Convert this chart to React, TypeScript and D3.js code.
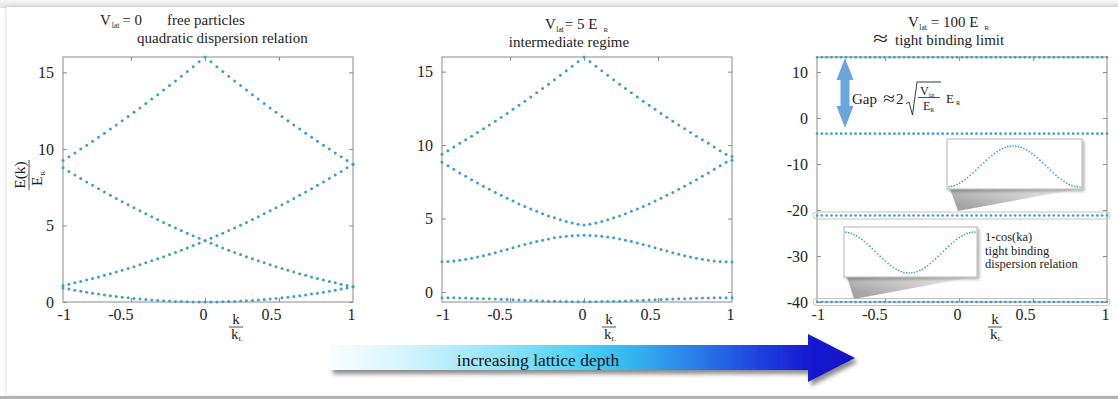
import { useEffect, useRef } from 'react';
import * as d3 from 'd3';

// k / k_L sample points (the plotted zone runs from -0.96 to 1)
const kGrid = [
  -0.96, -0.92, -0.88, -0.84, -0.8, -0.76, -0.72, -0.68, -0.64, -0.6, -0.56, -0.52, -0.48, -0.44, -0.4, -0.36,
  -0.32, -0.28, -0.24, -0.2, -0.16, -0.12, -0.08, -0.04, 0, 0.04, 0.08, 0.12, 0.16, 0.2, 0.24, 0.28, 0.32, 0.36,
  0.4, 0.44, 0.48, 0.52, 0.56, 0.6, 0.64, 0.68, 0.72, 0.76, 0.8, 0.84, 0.88, 0.92, 0.96, 1,
];

// V_lat = 0 (free particles)
const freeBand1 = [
  0.922, 0.846, 0.774, 0.706, 0.64, 0.578, 0.518, 0.462, 0.41, 0.36, 0.314, 0.27, 0.23, 0.194, 0.16, 0.13, 0.102,
  0.078, 0.058, 0.04, 0.026, 0.014, 0.006, 0.002, 0, 0.002, 0.006, 0.014, 0.026, 0.04, 0.058, 0.078, 0.102, 0.13,
  0.16, 0.194, 0.23, 0.27, 0.314, 0.36, 0.41, 0.462, 0.518, 0.578, 0.64, 0.706, 0.774, 0.846, 0.922, 1,
];
const freeBand2 = [
  1.082, 1.166, 1.254, 1.346, 1.44, 1.538, 1.638, 1.742, 1.85, 1.96, 2.074, 2.19, 2.31, 2.434, 2.56, 2.69, 2.822,
  2.958, 3.098, 3.24, 3.386, 3.534, 3.686, 3.842, 4, 3.842, 3.686, 3.534, 3.386, 3.24, 3.098, 2.958, 2.822, 2.69,
  2.56, 2.434, 2.31, 2.19, 2.074, 1.96, 1.85, 1.742, 1.638, 1.538, 1.44, 1.346, 1.254, 1.166, 1.082, 1,
];
const freeBand3 = [
  8.762, 8.526, 8.294, 8.066, 7.84, 7.618, 7.398, 7.182, 6.97, 6.76, 6.554, 6.35, 6.15, 5.954, 5.76, 5.57, 5.382,
  5.198, 5.018, 4.84, 4.666, 4.494, 4.326, 4.162, 4, 4.162, 4.326, 4.494, 4.666, 4.84, 5.018, 5.198, 5.382, 5.57,
  5.76, 5.954, 6.15, 6.35, 6.554, 6.76, 6.97, 7.182, 7.398, 7.618, 7.84, 8.066, 8.294, 8.526, 8.762, 9,
];
const freeBand4 = [
  9.242, 9.486, 9.734, 9.986, 10.24, 10.498, 10.758, 11.022, 11.29, 11.56, 11.834, 12.11, 12.39, 12.674, 12.96,
  13.25, 13.542, 13.838, 14.138, 14.44, 14.746, 15.054, 15.366, 15.682, 16, 15.682, 15.366, 15.054, 14.746, 14.44,
  14.138, 13.838, 13.542, 13.25, 12.96, 12.674, 12.39, 12.11, 11.834, 11.56, 11.29, 11.022, 10.758, 10.498, 10.24,
  9.986, 9.734, 9.486, 9.242, 9,
];

// V_lat = 5 E_R (intermediate regime)
const latticeBand1 = [
  -0.391, -0.394, -0.399, -0.407, -0.416, -0.427, -0.439, -0.453, -0.467, -0.483, -0.5, -0.517, -0.533, -0.55,
  -0.567, -0.583, -0.597, -0.611, -0.623, -0.634, -0.643, -0.651, -0.656, -0.659, -0.66, -0.659, -0.656, -0.651,
  -0.643, -0.634, -0.623, -0.611, -0.597, -0.583, -0.567, -0.55, -0.533, -0.517, -0.5, -0.483, -0.467, -0.453,
  -0.439, -0.427, -0.416, -0.407, -0.399, -0.394, -0.391, -0.39,
];
const latticeBand2 = [
  2.057, 2.079, 2.113, 2.162, 2.222, 2.296, 2.378, 2.47, 2.569, 2.674, 2.785, 2.899, 3.011, 3.125, 3.236, 3.341,
  3.44, 3.532, 3.614, 3.688, 3.748, 3.797, 3.831, 3.853, 3.86, 3.853, 3.831, 3.797, 3.748, 3.688, 3.614, 3.532,
  3.44, 3.341, 3.236, 3.125, 3.011, 2.899, 2.785, 2.674, 2.569, 2.47, 2.378, 2.296, 2.222, 2.162, 2.113, 2.079,
  2.057, 2.05,
];
const latticeBand3 = [
  8.84, 8.59, 8.35, 8.11, 7.88, 7.65, 7.42, 7.2, 6.99, 6.78, 6.58, 6.38, 6.19, 6, 5.82, 5.65, 5.49, 5.33, 5.18,
  5.05, 4.92, 4.8, 4.7, 4.62, 4.57, 4.62, 4.7, 4.8, 4.92, 5.05, 5.18, 5.33, 5.49, 5.65, 5.82, 6, 6.19, 6.38, 6.58,
  6.78, 6.99, 7.2, 7.42, 7.65, 7.88, 8.11, 8.35, 8.59, 8.84, 8.97,
];
const latticeBand4 = [
  9.38, 9.62, 9.88, 10.13, 10.37, 10.61, 10.86, 11.11, 11.37, 11.63, 11.9, 12.16, 12.44, 12.71, 12.99, 13.28,
  13.56, 13.85, 14.15, 14.45, 14.75, 15.06, 15.37, 15.68, 16, 15.68, 15.37, 15.06, 14.75, 14.45, 14.15, 13.85,
  13.56, 13.28, 12.99, 12.71, 12.44, 12.16, 11.9, 11.63, 11.37, 11.11, 10.86, 10.61, 10.37, 10.13, 9.88, 9.62,
  9.38, 9.22,
];

// V_lat = 100 E_R (tight binding): denser sampling, flat bands
const tightK = [
  -0.96, -0.927, -0.895, -0.862, -0.829, -0.797, -0.764, -0.731, -0.699, -0.666, -0.633, -0.601, -0.568, -0.535,
  -0.503, -0.47, -0.437, -0.405, -0.372, -0.339, -0.307, -0.274, -0.241, -0.209, -0.176, -0.143, -0.111, -0.078,
  -0.045, -0.013, 0.02, 0.053, 0.085, 0.118, 0.151, 0.183, 0.216, 0.249, 0.281, 0.314, 0.347, 0.379, 0.412, 0.445,
  0.477, 0.51, 0.543, 0.575, 0.608, 0.641, 0.673, 0.706, 0.739, 0.771, 0.804, 0.837, 0.869, 0.902, 0.935, 0.967, 1,
];
const tightBand1 = [
  -40, -40, -40, -40, -40, -40, -40, -40, -40, -40, -40, -40, -40, -40, -40, -40, -40, -40, -40, -40,
  -40, -40, -40, -40, -40, -40, -40, -40, -40, -40, -40, -40, -40, -40, -40, -40, -40, -40, -40, -40,
  -40, -40, -40, -40, -40, -40, -40, -40, -40, -40, -40, -40, -40, -40, -40, -40, -40, -40, -40, -40, -40,
];
const tightBand2 = [
  -21.2, -21.2, -21.2, -21.2, -21.2, -21.2, -21.2, -21.2, -21.2, -21.2, -21.2, -21.2, -21.2, -21.2, -21.2, -21.2,
  -21.2, -21.2, -21.2, -21.2, -21.2, -21.2, -21.2, -21.2, -21.2, -21.2, -21.2, -21.2, -21.2, -21.2, -21.2, -21.2,
  -21.2, -21.2, -21.2, -21.2, -21.2, -21.2, -21.2, -21.2, -21.2, -21.2, -21.2, -21.2, -21.2, -21.2, -21.2, -21.2,
  -21.2, -21.2, -21.2, -21.2, -21.2, -21.2, -21.2, -21.2, -21.2, -21.2, -21.2, -21.2, -21.2,
];
const tightBand3 = [
  -3.4, -3.4, -3.4, -3.4, -3.4, -3.4, -3.4, -3.4, -3.4, -3.4, -3.4, -3.4, -3.4, -3.4, -3.4, -3.4, -3.4, -3.4, -3.4,
  -3.4, -3.4, -3.4, -3.4, -3.4, -3.4, -3.4, -3.4, -3.4, -3.4, -3.4, -3.4, -3.4, -3.4, -3.4, -3.4, -3.4, -3.4, -3.4,
  -3.4, -3.4, -3.4, -3.4, -3.4, -3.4, -3.4, -3.4, -3.4, -3.4, -3.4, -3.4, -3.4, -3.4, -3.4, -3.4, -3.4, -3.4, -3.4,
  -3.4, -3.4, -3.4, -3.4,
];
const tightBand4 = [
  13.2, 13.2, 13.2, 13.2, 13.2, 13.2, 13.2, 13.2, 13.2, 13.2, 13.2, 13.2, 13.2, 13.2, 13.2, 13.2, 13.2, 13.2, 13.2,
  13.2, 13.2, 13.2, 13.2, 13.2, 13.2, 13.2, 13.2, 13.2, 13.2, 13.2, 13.2, 13.2, 13.2, 13.2, 13.2, 13.2, 13.2, 13.2,
  13.2, 13.2, 13.2, 13.2, 13.2, 13.2, 13.2, 13.2, 13.2, 13.2, 13.2, 13.2, 13.2, 13.2, 13.2, 13.2, 13.2, 13.2, 13.2,
  13.2, 13.2, 13.2, 13.2,
];

// zoomed-in band shapes for the two insets (normalised 0..1, on kGrid)
const insetUpper = [
  0.004, 0.016, 0.035, 0.062, 0.095, 0.136, 0.181, 0.232, 0.287, 0.345, 0.406, 0.469, 0.531, 0.594, 0.655, 0.713,
  0.768, 0.819, 0.864, 0.905, 0.938, 0.965, 0.984, 0.996, 1, 0.996, 0.984, 0.965, 0.938, 0.905, 0.864, 0.819, 0.768,
  0.713, 0.655, 0.594, 0.531, 0.469, 0.406, 0.345, 0.287, 0.232, 0.181, 0.136, 0.095, 0.062, 0.035, 0.016, 0.004, 0,
];
const insetLower = [
  0.996, 0.984, 0.965, 0.938, 0.905, 0.864, 0.819, 0.768, 0.713, 0.655, 0.594, 0.531, 0.469, 0.406, 0.345, 0.287,
  0.232, 0.181, 0.136, 0.095, 0.062, 0.035, 0.016, 0.004, 0, 0.004, 0.016, 0.035, 0.062, 0.095, 0.136, 0.181, 0.232,
  0.287, 0.345, 0.406, 0.469, 0.531, 0.594, 0.655, 0.713, 0.768, 0.819, 0.864, 0.905, 0.938, 0.965, 0.984, 0.996, 1,
];

const kTicks = [-1, -0.5, 0, 0.5, 1];
const freeYTicks = [0, 5, 10, 15];
const latticeYTicks = [0, 5, 10, 15];
const tightYTicks = [-40, -30, -20, -10, 0, 10];

const W = 1118;
const H = 399;
const SERIF = "'Liberation Serif', 'DejaVu Serif', 'Times New Roman', serif";
const DOT = '#3d9fd0';
const AXIS = '#8a8a8a';
const INK = '#222';

const App = () => {
  const svgRef = useRef(null);

  useEffect(() => {
    const svg = d3.select(svgRef.current);
    svg.selectAll('*').remove();

    // one css rule so every text (axes included) uses the serif face
    svg.append('style').text(`text { font-family: ${SERIF}; }`);

    const defs = svg.append('defs');

    const topShade = defs.append('linearGradient').attr('id', 'topShade').attr('x1', 0).attr('y1', 0).attr('x2', 0).attr('y2', 1);
    topShade.append('stop').attr('offset', 0).attr('stop-color', '#f7f7f7');
    topShade.append('stop').attr('offset', 1).attr('stop-color', '#e3e3e3');

    const cardShadow = defs.append('filter').attr('id', 'cardShadow').attr('x', '-2%').attr('y', '-5%').attr('width', '104%').attr('height', '110%');
    cardShadow.append('feDropShadow').attr('dx', 0).attr('dy', 0).attr('stdDeviation', 2.5).attr('flood-color', '#000').attr('flood-opacity', 0.18);

    const boxShadow = defs.append('filter').attr('id', 'boxShadow').attr('x', '-10%').attr('y', '-20%').attr('width', '125%').attr('height', '150%');
    boxShadow.append('feDropShadow').attr('dx', 2).attr('dy', 2).attr('stdDeviation', 1.5).attr('flood-color', '#000').attr('flood-opacity', 0.3);

    const arrowShadow = defs.append('filter').attr('id', 'arrowShadow').attr('x', '-5%').attr('y', '-50%').attr('width', '112%').attr('height', '220%');
    arrowShadow.append('feDropShadow').attr('dx', 3).attr('dy', 4).attr('stdDeviation', 2).attr('flood-color', '#000').attr('flood-opacity', 0.45);

    const depth = defs.append('linearGradient').attr('id', 'depthGrad').attr('gradientUnits', 'userSpaceOnUse')
      .attr('x1', 330).attr('y1', 0).attr('x2', 855).attr('y2', 0);
    [
      [0, '#f8fdff'], [0.14, '#d6f5fe'], [0.32, '#93e4fa'], [0.47, '#4fd2f7'], [0.58, '#33b4f0'],
      [0.7, '#2a7be7'], [0.82, '#1f40de'], [0.92, '#1618cf'], [1, '#1410c4'],
    ].forEach(([o, c]) => depth.append('stop').attr('offset', o).attr('stop-color', c));

    const wedge = defs.append('linearGradient').attr('id', 'wedgeGrad').attr('x1', 0).attr('y1', 0.6).attr('x2', 1).attr('y2', 0);
    wedge.append('stop').attr('offset', 0).attr('stop-color', '#a4a4a4');
    wedge.append('stop').attr('offset', 1).attr('stop-color', '#f6f6f6');

    // page card
    svg.append('rect').attr('width', W).attr('height', H).attr('fill', '#fff');
    svg.append('rect').attr('width', W).attr('height', 8).attr('fill', 'url(#topShade)');
    svg.append('rect').attr('x', 7).attr('y', 7).attr('width', W + 20).attr('height', 388).attr('fill', '#fff').attr('filter', 'url(#cardShadow)');
    svg.append('rect').attr('x', 0).attr('y', 396).attr('width', W).attr('height', 3).attr('fill', '#b3b3b3');

    const TOP = 57;
    const BOTTOM = 302;
    const PW = 290;

    const panels = [
      { left: 63, k: kGrid, bands: [freeBand1, freeBand2, freeBand3, freeBand4], yDomain: [0, 16], yTicks: freeYTicks, r: 1.5, kLabelX: 236 },
      { left: 442, k: kGrid, bands: [latticeBand1, latticeBand2, latticeBand3, latticeBand4], yDomain: [-0.68, 16], yTicks: latticeYTicks, r: 1.5, kLabelX: 609 },
      { left: 817, k: tightK, bands: [tightBand1, tightBand2, tightBand3, tightBand4], yDomain: [-40, 13.26], yTicks: tightYTicks, r: 1.35, kLabelX: 995 },
    ];

    const scales = panels.map((p) => {
      const x = d3.scaleLinear().domain([-0.96, 1]).range([p.left, p.left + PW]);
      const y = d3.scaleLinear().domain(p.yDomain).range([BOTTOM, TOP]);
      const g = svg.append('g');

      g.append('rect')
        .attr('x', p.left).attr('y', TOP).attr('width', PW).attr('height', BOTTOM - TOP)
        .attr('fill', 'none').attr('stroke', AXIS).attr('stroke-width', 1);

      // inward tick marks on all four sides
      const marks = [
        [d3.axisBottom(x).tickValues([-0.5, 0, 0.5]), 0, BOTTOM],
        [d3.axisTop(x).tickValues([-0.5, 0, 0.5]), 0, TOP],
        [d3.axisLeft(y).tickValues(p.yTicks), p.left, 0],
        [d3.axisRight(y).tickValues(p.yTicks), p.left + PW, 0],
      ];
      marks.forEach(([axis, tx, ty]) => {
        const a = g.append('g').attr('transform', `translate(${tx},${ty})`)
          .call(axis.tickSize(-4).tickSizeOuter(0).tickFormat(() => ''));
        a.select('.domain').remove();
        a.selectAll('line').attr('stroke', AXIS);
      });

      // tick labels
      const xl = g.append('g').attr('transform', `translate(0,${BOTTOM})`)
        .call(d3.axisBottom(x).tickValues(kTicks).tickSize(0).tickPadding(7).tickFormat((d) => String(d)));
      xl.select('.domain').remove();
      xl.selectAll('text')
        .attr('font-size', 16).attr('fill', INK)
        .attr('text-anchor', (d) => (d === -1 ? 'start' : 'end'))
        .attr('dx', (d) => (d === -1 ? 0 : 2));

      const yl = g.append('g').attr('transform', `translate(${p.left},0)`)
        .call(d3.axisLeft(y).tickValues(p.yTicks).tickSize(0).tickPadding(9).tickFormat((d) => String(d)));
      yl.select('.domain').remove();
      yl.selectAll('text').attr('font-size', 16).attr('fill', INK);

      // k / k_L label
      g.append('text').attr('x', p.kLabelX).attr('y', 324).attr('text-anchor', 'middle')
        .attr('font-size', 15).attr('fill', INK).text('k');
      g.append('line').attr('x1', p.kLabelX - 7).attr('x2', p.kLabelX + 7).attr('y1', 327).attr('y2', 327)
        .attr('stroke', INK).attr('stroke-width', 0.8);
      const kl = g.append('text').attr('x', p.kLabelX - 5).attr('y', 339).attr('font-size', 15).attr('fill', INK);
      kl.append('tspan').text('k');
      kl.append('tspan').attr('font-size', 7).attr('dy', 2).text('L');

      return { p, x, y, g };
    });

    // panel 3 decorations sit under the dots
    const tight = scales[2];
    [-21.2, -40].forEach((level) => {
      tight.g.append('rect')
        .attr('x', tight.p.left - 4).attr('y', tight.y(level) - 3.5).attr('width', PW + 7).attr('height', 7)
        .attr('rx', 3.5).attr('fill', 'none').attr('stroke', '#c4c4c4').attr('stroke-width', 1);
    });

    // band dots
    scales.forEach(({ p, x, y, g }) => {
      p.bands.forEach((band, bi) => {
        g.selectAll(`.band-${bi}`)
          .data(p.k.map((k, i) => [k, band[i]]))
          .enter()
          .append('circle')
          .attr('class', `band-${bi}`)
          .attr('cx', (d) => x(d[0]))
          .attr('cy', (d) => y(d[1]))
          .attr('r', p.r)
          .attr('fill', DOT);
      });
    });

    // insets with callout wedges
    const insets = [
      { x0: 947, y0: 139, x1: 1082, y1: 189, tip: [958, 211], values: insetUpper, lo: 187, hi: 146 },
      { x0: 844, y0: 227, x1: 977, y1: 277, tip: [854, 299], values: insetLower, lo: 273, hi: 232 },
    ];
    insets.forEach((b) => {
      svg.append('path')
        .attr('d', `M${b.x0 + 3},${b.y1} L${b.x1 - 4},${b.y1} L${b.tip[0]},${b.tip[1]} Z`)
        .attr('fill', 'url(#wedgeGrad)');
      svg.append('rect')
        .attr('x', b.x0).attr('y', b.y0).attr('width', b.x1 - b.x0).attr('height', b.y1 - b.y0)
        .attr('fill', '#fff').attr('stroke', '#b4b4b4').attr('filter', 'url(#boxShadow)');
      const ix = d3.scaleLinear().domain([-0.96, 1]).range([b.x0 + 2, b.x1 - 2]);
      const iy = d3.scaleLinear().domain([0, 1]).range([b.lo, b.hi]);
      svg.append('g').selectAll('circle')
        .data(kGrid.map((k, i) => [k, b.values[i]]))
        .enter()
        .append('circle')
        .attr('cx', (d) => ix(d[0]))
        .attr('cy', (d) => iy(d[1]))
        .attr('r', 0.85)
        .attr('fill', DOT);
    });

    const note = svg.append('g').attr('font-size', 12.5).attr('fill', INK);
    note.append('text').attr('x', 985).attr('y', 241).text('1-cos(ka)');
    note.append('text').attr('x', 985).attr('y', 254.5).text('tight binding');
    note.append('text').attr('x', 985).attr('y', 268).text('dispersion relation');

    // gap arrow and formula
    svg.append('path')
      .attr('d', 'M845,58 L853.5,80 L849.5,80 L849.5,106 L853.5,106 L845,128 L836.5,106 L840.5,106 L840.5,80 L836.5,80 Z')
      .attr('fill', '#6aa6dc');

    const gap = svg.append('g').attr('fill', INK);
    gap.append('text').attr('x', 852).attr('y', 104).attr('font-size', 15).text('Gap');
    gap.append('text').attr('x', 883).attr('y', 104).attr('font-size', 17)
      .attr('textLength', 12).attr('lengthAdjust', 'spacingAndGlyphs').text('≈');
    gap.append('text').attr('x', 896).attr('y', 104).attr('font-size', 15).text('2');
    gap.append('path').attr('d', 'M906,104 L909,102 L912.5,115 L917,82 L941,82')
      .attr('fill', 'none').attr('stroke', INK).attr('stroke-width', 0.9);
    const gv = gap.append('text').attr('x', 920).attr('y', 95).attr('font-size', 12);
    gv.append('tspan').text('V');
    gv.append('tspan').attr('font-size', 6).attr('dy', 2).text('lat');
    gap.append('line').attr('x1', 918).attr('x2', 940).attr('y1', 97.5).attr('y2', 97.5)
      .attr('stroke', INK).attr('stroke-width', 0.8);
    const ge = gap.append('text').attr('x', 923).attr('y', 110).attr('font-size', 12);
    ge.append('tspan').text('E');
    ge.append('tspan').attr('font-size', 6).attr('dy', 2).text('R');
    const ger = gap.append('text').attr('x', 946).attr('y', 103).attr('font-size', 13);
    ger.append('tspan').text('E');
    ger.append('tspan').attr('font-size', 6.5).attr('dx', 2).attr('dy', 2).text('R');

    // titles
    const titles = svg.append('g').attr('font-size', 15).attr('fill', INK);

    const t1 = titles.append('text').attr('x', 100).attr('y', 25);
    t1.append('tspan').text('V');
    t1.append('tspan').attr('font-size', 7.5).attr('dy', 3).attr('dx', 1).text('lat');
    t1.append('tspan').attr('dy', -3).attr('dx', 3).text('= 0');
    titles.append('text').attr('x', 167).attr('y', 25).text('free particles');
    titles.append('text').attr('x', 137).attr('y', 43).text('quadratic dispersion relation');

    const t2 = titles.append('text').attr('x', 545).attr('y', 29);
    t2.append('tspan').text('V');
    t2.append('tspan').attr('font-size', 7.5).attr('dy', 3).attr('dx', 0.5).text('lat');
    t2.append('tspan').attr('dy', -3).attr('dx', 1).text('= 5 E');
    t2.append('tspan').attr('font-size', 7).attr('dy', 3).attr('dx', 6).text('R');
    titles.append('text').attr('x', 569).attr('y', 47).attr('text-anchor', 'middle').text('intermediate regime');

    const t3 = titles.append('text').attr('x', 908).attr('y', 27);
    t3.append('tspan').text('V');
    t3.append('tspan').attr('font-size', 7.5).attr('dy', 3).attr('dx', 0.5).text('lat');
    t3.append('tspan').attr('dy', -3).attr('dx', 4).text('= 100 E');
    t3.append('tspan').attr('font-size', 7).attr('dy', 3).attr('dx', 6).text('R');
    titles.append('text').attr('x', 873).attr('y', 45).attr('font-size', 20)
      .attr('textLength', 15).attr('lengthAdjust', 'spacingAndGlyphs').text('≈');
    titles.append('text').attr('x', 895).attr('y', 45).text('tight binding limit');

    // y label of first panel: E(k) / E_R
    const ylab = svg.append('g').attr('transform', 'translate(25,175) rotate(-90)').attr('fill', INK);
    ylab.append('text').attr('x', 0).attr('y', 0).attr('text-anchor', 'middle').attr('font-size', 15.5).text('E(k)');
    ylab.append('line').attr('x1', -15).attr('x2', 15).attr('y1', 4).attr('y2', 4).attr('stroke', INK).attr('stroke-width', 0.8);
    const yd = ylab.append('text').attr('x', -11).attr('y', 17).attr('font-size', 15.5);
    yd.append('tspan').text('E');
    yd.append('tspan').attr('font-size', 7).attr('dy', 3).attr('dx', 1).text('R');

    // increasing lattice depth arrow
    svg.append('path')
      .attr('d', 'M330,345 L808,345 L808,334 L855,358 L808,382 L808,370 L330,370 Z')
      .attr('fill', 'url(#depthGrad)')
      .attr('filter', 'url(#arrowShadow)');
    svg.append('text')
      .attr('x', 538).attr('y', 366).attr('text-anchor', 'middle')
      .attr('font-size', 17.5).attr('fill', '#111')
      .text('increasing lattice depth');
  }, []);

  return (
    <div>
      <svg
        ref={svgRef}
        width={W}
        height={H}
        style={{ position: 'absolute', left: 0, top: 0, display: 'block' }}
      ></svg>
    </div>
  );
};

export default App;
